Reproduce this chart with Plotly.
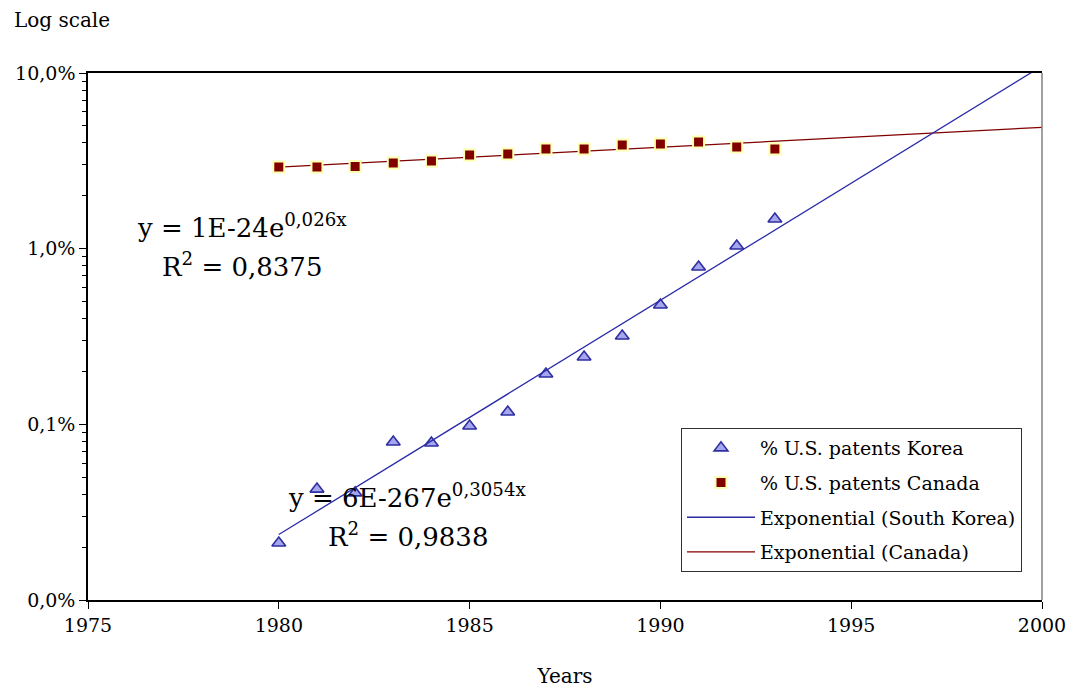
import numpy as np
import plotly.graph_objects as go

years = [1980, 1981, 1982, 1983, 1984, 1985, 1986, 1987, 1988, 1989, 1990, 1991, 1992, 1993]
korea = [0.0211, 0.0428, 0.0407, 0.0793, 0.0783, 0.0978, 0.1175, 0.1935, 0.2417, 0.3185, 0.478, 0.787, 1.036, 1.475]
canada = [2.92, 2.92, 2.94, 3.07, 3.16, 3.41, 3.46, 3.69, 3.69, 3.89, 3.94, 4.05, 3.79, 3.69]
trend_years = [1980, 2000]
x_ticks = [1975, 1980, 1985, 1990, 1995, 2000]
y_ticks = [0.01, 0.1, 1, 10]
y_ticktext = ["0,0%", "0,1%", "1,0%", "10,0%"]
minor_y = [m * d for d in (0.01, 0.1, 1) for m in range(2, 10)]

FONT = "DejaVu Serif"

def exp_fit(xs, ys):
    b, a = np.polyfit(np.array(xs, float), np.log(np.array(ys, float)), 1)
    xx = np.linspace(trend_years[0], trend_years[1], 200)
    return xx, np.exp(a + b * xx)

kx, ky = exp_fit(years, korea)
cx, cy = exp_fit(years, canada)

fig = go.Figure()
fig.add_trace(go.Scatter(
    x=cx, y=cy, mode="lines", name="Exponential (Canada)",
    line=dict(color="#800000", width=1.3), legendrank=4, legendgroup="d"))
fig.add_trace(go.Scatter(
    x=years, y=korea, mode="markers", name="% U.S. patents Korea",
    marker=dict(symbol="triangle-up", size=12, color="#a6a6ee",
                line=dict(color="#2e2ea0", width=1.6)),
    legendrank=1, legendgroup="a"))
fig.add_trace(go.Scatter(
    x=years, y=canada, mode="markers", name="% U.S. patents Canada",
    marker=dict(symbol="square", size=11, color="#800000",
                line=dict(color="#ffffb0", width=2)),
    legendrank=2, legendgroup="b"))
fig.add_trace(go.Scatter(
    x=kx, y=ky, mode="lines", name="Exponential (South Korea)",
    line=dict(color="#2a2aa8", width=1.3), legendrank=3, legendgroup="c"))

L, R, T, B = 88, 32, 73, 88
W, H = 1074, 688
pw, ph = W - L - R, H - T - B

def px(xp):
    return (xp - L) / pw

def py(yp):
    return (H - B - yp) / ph

fig.update_layout(
    width=W, height=H,
    margin=dict(l=L, r=R, t=T, b=B, autoexpand=False),
    paper_bgcolor="white", plot_bgcolor="white",
    font=dict(family=FONT, size=19, color="black"),
    showlegend=True,
    legend=dict(
        x=px(681), y=py(428), xanchor="left", yanchor="top",
        bordercolor="#303030", borderwidth=1, bgcolor="white",
        font=dict(family=FONT, size=19, color="black"),
        tracegroupgap=7, itemwidth=68,
    ),
    xaxis=dict(
        range=[1975, 2000], tickvals=x_ticks, ticks="outside", ticklen=7,
        tickcolor="black", showline=True, linecolor="black", linewidth=1.5,
        mirror=True, showgrid=False, zeroline=False, automargin=False,
        title=dict(text="Years", font=dict(family=FONT, size=20), standoff=34),
        tickfont=dict(family=FONT, size=19),
    ),
    yaxis=dict(
        type="log", range=[-2, 1], tickvals=y_ticks, ticktext=y_ticktext,
        ticks="outside", ticklen=7, tickcolor="black", automargin=False,
        showline=True, linecolor="black", linewidth=1.5, showgrid=False,
        zeroline=False, tickfont=dict(family=FONT, size=19),
        minor=dict(tickmode="array", tickvals=minor_y, ticks="outside",
                   ticklen=4, tickcolor="black", showgrid=False),
    ),
)

fig.add_shape(type="line", xref="paper", yref="paper", x0=1, x1=1, y0=0, y1=1,
              line=dict(color="#808080", width=1.5))

ann_font = dict(family=FONT, size=26, color="black")
fig.add_annotation(text="y = 1E-24e<sup>0,026x</sup>", xref="paper", yref="paper",
                   x=px(242), y=py(226), xanchor="center", yanchor="middle",
                   showarrow=False, font=ann_font)
fig.add_annotation(text="R<sup>2</sup> = 0,8375", xref="paper", yref="paper",
                   x=px(242), y=py(265), xanchor="center", yanchor="middle",
                   showarrow=False, font=ann_font)
fig.add_annotation(text="y = 6E-267e<sup>0,3054x</sup>", xref="paper", yref="paper",
                   x=px(407), y=py(496), xanchor="center", yanchor="middle",
                   showarrow=False, font=ann_font)
fig.add_annotation(text="R<sup>2</sup> = 0,9838", xref="paper", yref="paper",
                   x=px(408), y=py(535), xanchor="center", yanchor="middle",
                   showarrow=False, font=ann_font)
fig.add_annotation(text="Log scale", xref="paper", yref="paper",
                   x=px(12), y=py(20), xanchor="left", yanchor="middle",
                   showarrow=False, font=dict(family=FONT, size=20))

fig.write_html("out.html")
